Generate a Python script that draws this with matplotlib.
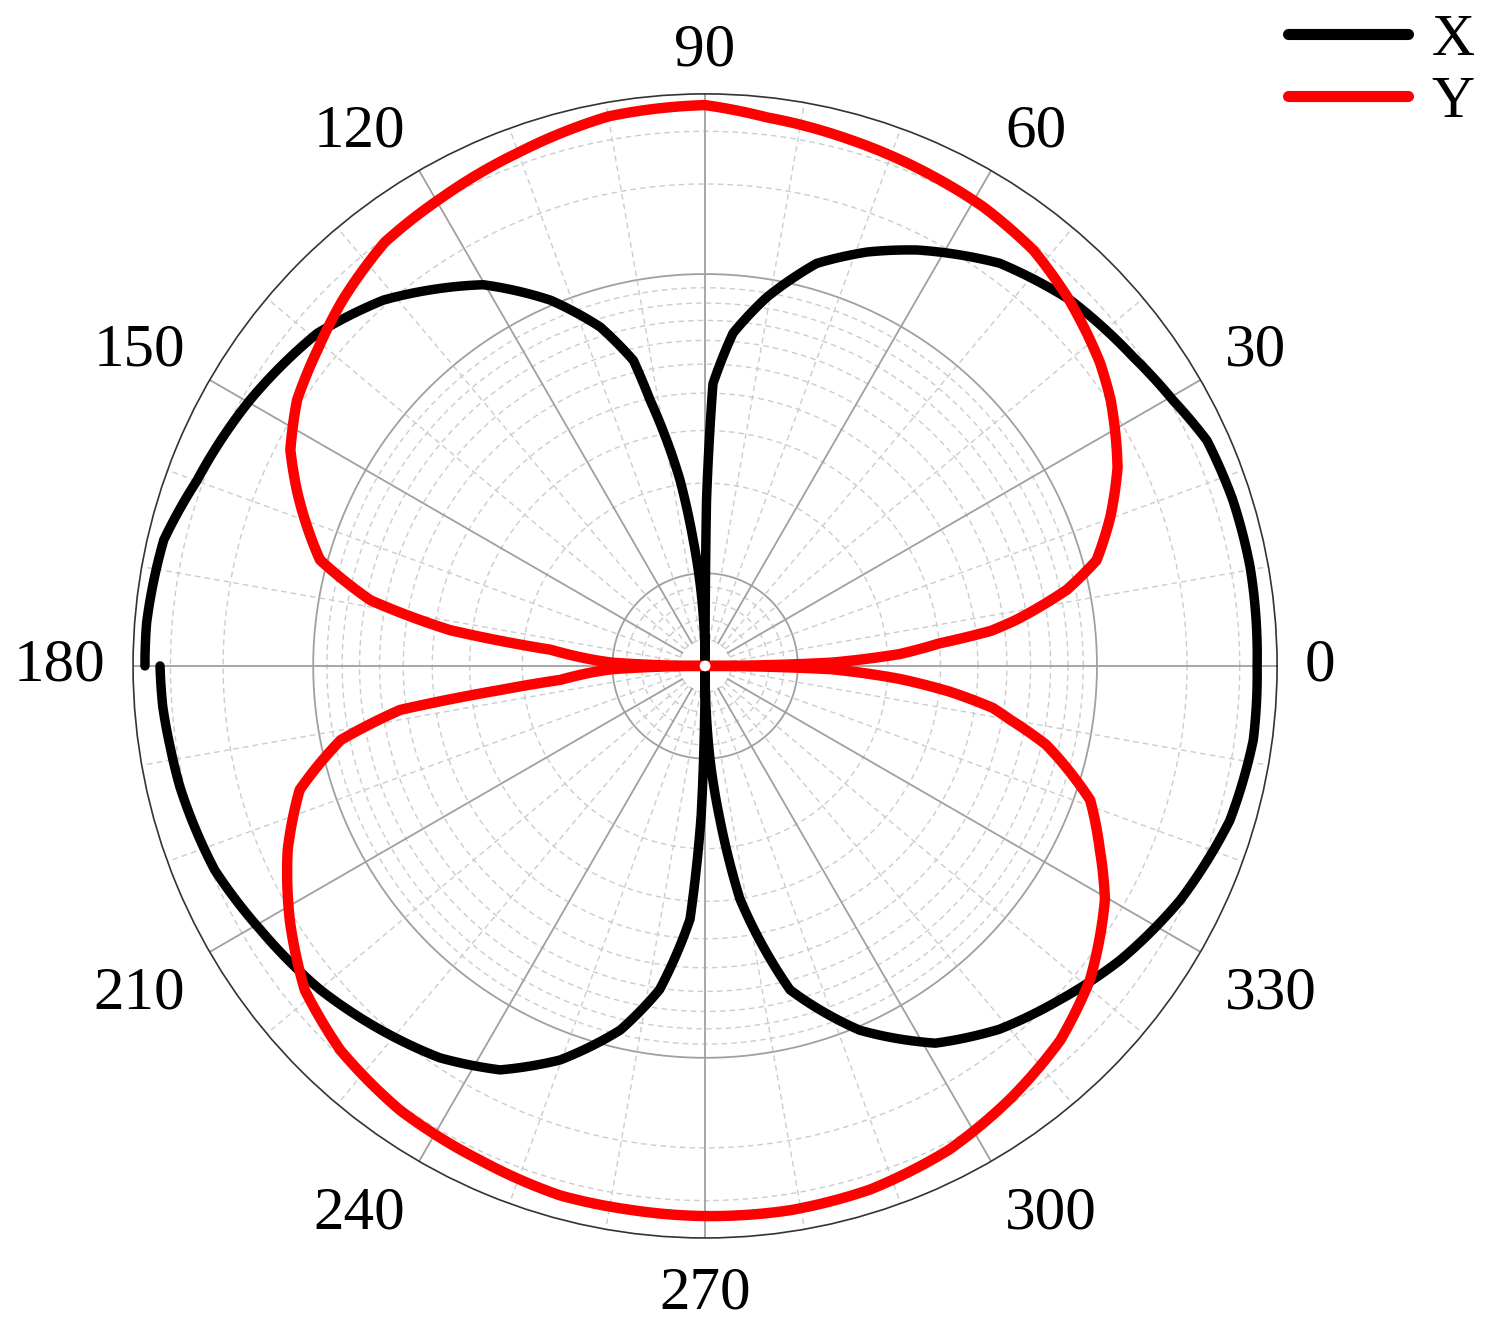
import numpy as np
import matplotlib
matplotlib.use("Agg")
import matplotlib.pyplot as plt
from matplotlib.transforms import offset_copy

# ---- data (angles in degrees, values on log radial scale) ----
x_theta = [-180, -175.7, -171.4, -167, -157.4, -149.3, -139.9, -131.8, -124.1, -116.9,
           -110.2, -103.1, -98, -93.4, -91.5, -90, -87, -84.5, -81.5, -75.3,
           -67, -58.6, -51, -43.3, -35.3, -26.2, -16.4, -7.7, 0, 10.3,
           17.5, 24.2, 29.6, 35.8, 45, 53.8, 63, 68.6, 74.5, 80.5,
           85.2, 88.4, 89.5, 90, 95.4, 97.7, 101.7, 103.2, 107.2, 112.9,
           120.2, 131.3, 139.4, 149.7, 160, 166.9, 171.4, 175.6, 180]
x_vals = [32.5, 32.2, 31.5, 31.0, 29.2, 26.2, 23.5, 20.9, 18.7, 16.0,
          12.4, 8.7, 6.06, 3.45, 1.55, 0.5, 1.0, 1.6, 3.0, 6.45,
          10.3, 14.7, 17.9, 20.8, 24.6, 28.9, 33.0, 34.6, 34.3, 34.8,
          34.6, 33.8, 30.8, 28.5, 26.2, 22.8, 17.8, 15.0, 12.2, 8.7,
          6.4, 4.3, 1.75, 0.5, 1.30, 2.08, 3.97, 5.48, 7.52, 10.4,
          14.6, 20.8, 25.0, 28.3, 31.5, 35.3, 35.9, 36.5, 36.5]

y_theta = [-180, -178, -177, -174.5, -173.3, -171.8, -168.5, -163, -156.2, -148.5,
           -141, -133.5, -124.5, -114.5, -105.3, -98, -90, -81.1, -72.5, -63.2,
           -54.9, -46.5, -39.2, -30.3, -25, -19.2, -14.8, -13, -10, -8.3,
           -6, -3.8, -1.5, 0, 1.5, 3.5, 5.5, 7, 8.4, 11.9,
           15.1, 20.2, 25.7, 33.3, 37.5, 45.5, 51.7, 58.8, 65, 74.6,
           83.6, 90, 100, 110, 119.4, 127.1, 134.7, 140.8, 146.9, 152.5,
           157, 164.6, 168.9, 172, 174, 177, 178, 180]
y_vals = [0.5, 1.0, 1.14, 1.50, 2.39, 5.24, 8.57, 12.8, 16.4, 20.8,
          25.8, 28.9, 31.0, 32.0, 33.5, 33.5, 33.8, 34.0, 33.5, 31.7,
          28.9, 26.0, 22.4, 17.3, 14.0, 11.3, 8.25, 7.24, 5.32, 4.59,
          3.25, 2.19, 1.3, 0.5, 1.3, 2.2, 3.0, 4.5, 5.5, 8.44,
          11.1, 13.6, 16.6, 20.5, 22.6, 26.2, 28.9, 30.5, 31.3, 32.7,
          34.3, 36.7, 35.9, 32.8, 30.6, 29.2, 25.8, 23.0, 20.8, 17.9,
          14.8, 10.6, 6.75, 3.56, 1.62, 1.14, 1.0, 0.5]

theta_ticks = [0, 30, 60, 90, 120, 150, 180, 210, 240, 270, 300, 330]
theta_labels = ["0", "30", "60", "90", "120", "150", "180", "210", "240", "270", "300", "330"]
r_min, r_max = 0.49, 40.0

serif = ["Liberation Serif", "DejaVu Serif"]
plt.rcParams["font.family"] = serif

fig = plt.figure(figsize=(14.85, 13.32), dpi=100)
ax = fig.add_axes([0.0896, 0.0706, 0.7704, 0.8589], projection="polar")
ax.set_rscale("log")
ax.set_rlim(r_min, r_max)
ax.grid(False)
ax.set_yticks([])
ax.set_yticklabels([])
ax.yaxis.set_minor_locator(matplotlib.ticker.NullLocator())

# radial circles
tt = np.linspace(0, 2 * np.pi, 721)
for rv in [0.6, 0.7, 0.8, 0.9, 2, 3, 4, 5, 6, 7, 8, 9, 20, 30]:
    ax.plot(tt, np.full_like(tt, rv), color="#cccccc", lw=1.0, ls=(0, (4, 3)), zorder=1)
for rv in [1, 10]:
    ax.plot(tt, np.full_like(tt, rv), color="#a0a0a0", lw=1.3, zorder=1)
# spokes
for a in range(0, 360, 10):
    th = np.deg2rad(a)
    if a % 30 == 0:
        ax.plot([th, th], [0.6, r_max], color="#a0a0a0", lw=1.3, zorder=1)
    else:
        ax.plot([th, th], [0.6, r_max], color="#cccccc", lw=1.0, ls=(0, (4, 3)), zorder=1)

# curves
lx, = ax.plot(np.deg2rad(x_theta), x_vals, color="black", lw=6.8,
              solid_capstyle="round", solid_joinstyle="round", zorder=3, label="X")
ly, = ax.plot(np.deg2rad(y_theta), y_vals, color="#ff0000", lw=7.5,
              solid_capstyle="round", solid_joinstyle="round", zorder=4, label="Y")
for ln in (lx, ly):
    ln.get_path()._interpolation_steps = 40
ax.scatter([0], [r_min], s=60, color="white", zorder=6, edgecolors="none")

# theta ticks (marks only) and corner-anchored labels
ax.set_xticks(np.deg2rad(np.arange(0, 360, 10)))
ax.set_xticklabels([""] * 36)
ax.tick_params(axis="x", direction="in", length=7, width=1.0, colors="black")
ax.spines["polar"].set_linewidth(1.2)
ax.spines["polar"].set_color("#333333")

gap = 28  # pixels outside the outer circle
for a, lab in zip(theta_ticks, theta_labels):
    c, s = np.cos(np.deg2rad(a)), np.sin(np.deg2rad(a))
    ha = "center" if abs(c) < 1e-6 else ("left" if c > 0 else "right")
    if abs(s) < 1e-6:
        va = "center"
    else:
        va = "baseline" if s > 0 else "top"
    tr = offset_copy(ax.transData, fig=fig, x=gap * c, y=gap * s, units="dots")
    ax.text(np.deg2rad(a), r_max, lab, transform=tr, ha=ha, va=va,
            fontsize=44, color="black", clip_on=False)

leg = fig.legend(handles=[lx, ly], loc="upper right", bbox_to_anchor=(0.993, 0.99),
                 frameon=False, fontsize=43, handlelength=2.0, handletextpad=0.4,
                 labelspacing=0.12, borderpad=0, borderaxespad=0)
for h in leg.legend_handles:
    h.set_linewidth(8)
    h.set_solid_capstyle("round")

fig.savefig("out.png", dpi=100, facecolor="white")
